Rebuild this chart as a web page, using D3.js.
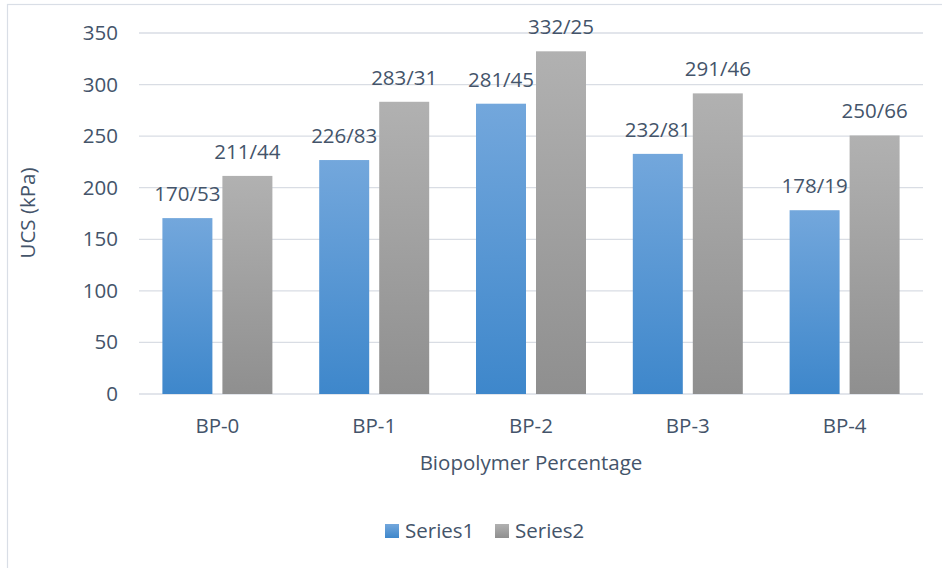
<!DOCTYPE html>
<html>
<head>
<meta charset="utf-8">
<script src="https://cdn.jsdelivr.net/npm/d3@7"></script>
<style>
  html, body { margin: 0; padding: 0; background: #fff; }
  svg { display: block; }
  svg text { font-family: "Open Sans", "Noto Sans", sans-serif; fill: #44546a; }
</style>
</head>
<body>
<svg id="chart" width="942" height="568"></svg>
<script>
// Chart data
const categories = ['BP-0', 'BP-1', 'BP-2', 'BP-3', 'BP-4'];
const seriesNames = ['Series1', 'Series2'];
const series1 = [170.53, 226.83, 281.45, 232.81, 178.19];
const series2 = [211.44, 283.31, 332.25, 291.46, 250.66];
const series1Labels = ['170/53', '226/83', '281/45', '232/81', '178/19'];
const series2Labels = ['211/44', '283/31', '332/25', '291/46', '250/66'];
const yTicks = [0, 50, 100, 150, 200, 250, 300, 350];

const FS = 20.5;
const svg = d3.select('#chart');
const margin = { left: 139, right: 19, top: 33, bottom: 174 };
const width = 942 - margin.left - margin.right;
const height = 568 - margin.top - margin.bottom;

// outer frame (Excel chart area)
svg.append('rect')
  .attr('x', 7.5).attr('y', 4.5)
  .attr('width', 960).attr('height', 600)
  .attr('fill', 'none').attr('stroke', '#d9dee6').attr('stroke-width', 1.2);

const defs = svg.append('defs');
const grads = [['g1', '#73a7dc', '#3e87cb'], ['g2', '#b1b1b1', '#8f8f8f']];
grads.forEach(([id, top, bot]) => {
  const lg = defs.append('linearGradient').attr('id', id)
    .attr('x1', 0).attr('y1', 0).attr('x2', 0).attr('y2', 1);
  lg.append('stop').attr('offset', '0%').attr('stop-color', top);
  lg.append('stop').attr('offset', '100%').attr('stop-color', bot);
});

const g = svg.append('g').attr('transform', `translate(${margin.left},${margin.top})`);

const x = d3.scaleBand().domain(categories).range([0, width]);
const y = d3.scaleLinear().domain([0, 350]).range([height, 0]);

const barW = 50, barGap = 10;
const groupW = barW * 2 + barGap;

// gridlines
g.append('g')
  .selectAll('line')
  .data(yTicks)
  .join('line')
  .attr('x1', 0).attr('x2', width)
  .attr('y1', d => y(d)).attr('y2', d => y(d))
  .attr('stroke', '#d9dde4').attr('stroke-width', 1.3);

// y axis
const yAxis = g.append('g')
  .call(d3.axisLeft(y).tickValues(yTicks).tickSize(0).tickPadding(21));
yAxis.select('.domain').remove();
yAxis.attr('font-size', FS).attr('font-family', null);

// x axis labels
const xAxis = g.append('g').attr('transform', `translate(0,${height})`)
  .call(d3.axisBottom(x).tickSize(0).tickPadding(24));
xAxis.select('.domain').remove();
xAxis.attr('font-size', FS).attr('font-family', null);

const data = categories.map((c, i) => ({
  cat: c,
  vals: [
    { s: 'Series1', v: series1[i], lab: series1Labels[i], fill: 'url(#g1)' },
    { s: 'Series2', v: series2[i], lab: series2Labels[i], fill: 'url(#g2)' }
  ]
}));

const groups = g.append('g').selectAll('g')
  .data(data)
  .join('g')
  .attr('transform', d => `translate(${x(d.cat) + (x.bandwidth() - groupW) / 2},0)`);

groups.selectAll('rect')
  .data(d => d.vals)
  .join('rect')
  .attr('x', (d, i) => i * (barW + barGap))
  .attr('y', d => y(d.v))
  .attr('width', barW)
  .attr('height', d => height - y(d.v))
  .attr('fill', d => d.fill);

groups.selectAll('text.label')
  .data(d => d.vals)
  .join('text')
  .attr('class', 'label')
  .attr('x', (d, i) => i * (barW + barGap) + barW / 2)
  .attr('y', d => y(d.v) - 17)
  .attr('text-anchor', 'middle')
  .attr('font-size', FS)
  .text(d => d.lab);

// axis titles
svg.append('text')
  .attr('transform', 'translate(35,213) rotate(-90)')
  .attr('text-anchor', 'middle').attr('font-size', FS)
  .text('UCS (kPa)');

svg.append('text')
  .attr('x', 531).attr('y', 470)
  .attr('text-anchor', 'middle').attr('font-size', FS)
  .text('Biopolymer Percentage');

// legend
const legendX = [385, 495];
seriesNames.forEach((s, i) => {
  svg.append('rect')
    .attr('x', legendX[i]).attr('y', 524)
    .attr('width', 14).attr('height', 14)
    .attr('fill', `url(#${grads[i][0]})`);
  svg.append('text')
    .attr('x', legendX[i] + 20).attr('y', 538)
    .attr('font-size', FS)
    .text(s);
});
</script>
</body>
</html>
